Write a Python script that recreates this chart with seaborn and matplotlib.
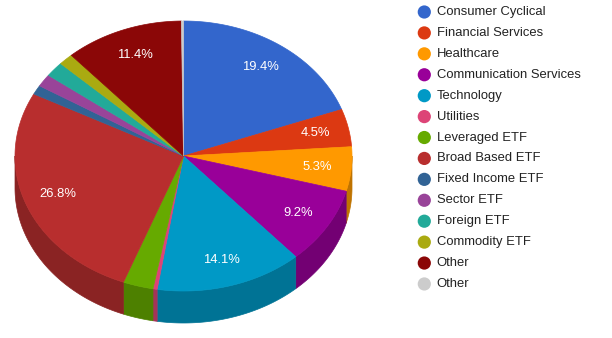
import numpy as np
import matplotlib
matplotlib.use("Agg")
import matplotlib.pyplot as plt
import seaborn as sns
from matplotlib.patches import Polygon, Circle

sns.set_theme(style="white")
plt.rcParams['font.family'] = ['Liberation Sans', 'DejaVu Sans']

categories = ["Consumer Cyclical", "Financial Services", "Healthcare",
              "Communication Services", "Technology", "Utilities",
              "Leveraged ETF", "Broad Based ETF", "Fixed Income ETF",
              "Sector ETF", "Foreign ETF", "Commodity ETF", "Other", "Other"]
values = [19.4, 4.5, 5.3, 9.2, 14.1, 0.4, 2.9, 26.8, 1.1, 1.5, 1.8, 1.4, 11.4, 0.2]
colors = ["#3366cc", "#dc3912", "#ff9900", "#990099", "#0099c6", "#dd4477",
          "#66aa00", "#b82e2e", "#316395", "#994499", "#22aa99", "#aaaa11",
          "#8b0707", "#cccccc"]

palette = sns.color_palette(colors)

W, H = 612, 338
fig = plt.figure(figsize=(W / 100, H / 100), dpi=100)
ax = fig.add_axes([0, 0, 1, 1])
ax.set_xlim(0, W)
ax.set_ylim(H, 0)
ax.axis("off")

cx, cy, rx, ry, depth = 183.5, 156.0, 168.5, 135.0, 32.0

def pt(theta_deg, r=1.0, dy=0.0):
    t = np.radians(theta_deg)
    return cx + r * rx * np.sin(t), cy - r * ry * np.cos(t) + dy

total = sum(values)
bounds = np.concatenate([[0], np.cumsum(values)]) / total * 360.0

def darker(c, f=0.75):
    return tuple(ch * f for ch in c)

# side walls (front half: 90..270 deg)
for i, col in enumerate(palette):
    a1, a2 = bounds[i], bounds[i + 1]
    lo, hi = max(a1, 90), min(a2, 270)
    if hi <= lo:
        continue
    th = np.linspace(lo, hi, max(3, int((hi - lo) * 2)))
    top = [pt(t) for t in th]
    bot = [pt(t, dy=depth) for t in th[::-1]]
    ax.add_patch(Polygon(top + bot, closed=True, facecolor=darker(col),
                         edgecolor=darker(col), linewidth=0.5))

# top faces
for i, col in enumerate(palette):
    a1, a2 = bounds[i], bounds[i + 1]
    th = np.linspace(a1, a2, max(3, int((a2 - a1) * 2)))
    poly = [(cx, cy)] + [pt(t) for t in th]
    ax.add_patch(Polygon(poly, closed=True, facecolor=col, edgecolor=col,
                         linewidth=0.5))

# percentage labels
for i, v in enumerate(values):
    pct = v / total * 100
    if pct < 4:
        continue
    mid = (bounds[i] + bounds[i + 1]) / 2
    x, y = pt(mid, r=0.8)
    ax.text(x, y, f"{pct:.1f}%", color="white", fontsize=9.4,
            ha="center", va="center")

# legend
lx, ly0, step = 424.3, 12.0, 20.92
for i, (name, col) in enumerate(zip(categories, palette)):
    y = ly0 + i * step
    ax.add_patch(Circle((lx, y), 6.6, facecolor=col, edgecolor="none"))
    ax.text(lx + 12.5, y, name, color="#222222", fontsize=9.4,
            ha="left", va="center")

fig.savefig("out.png", dpi=100)
